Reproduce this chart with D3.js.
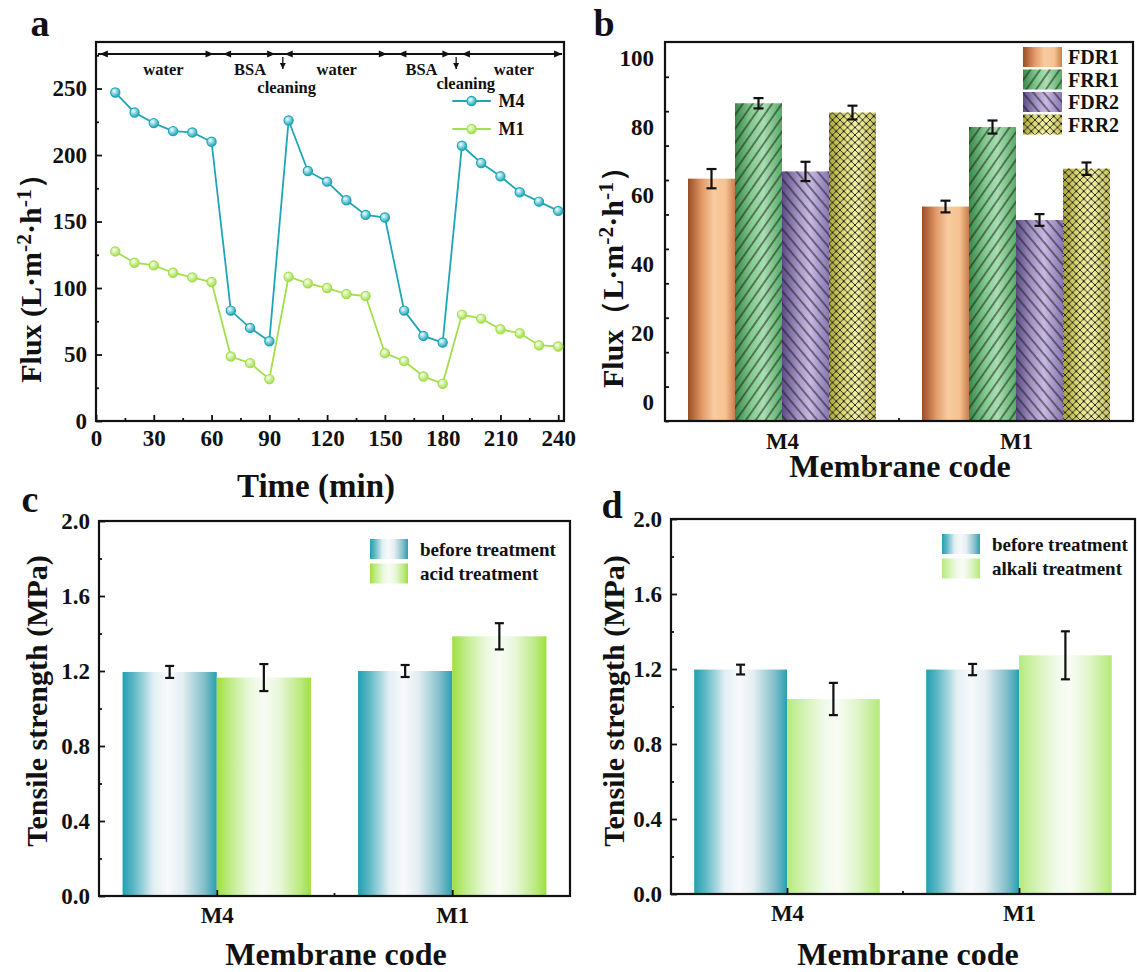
<!DOCTYPE html>
<html><head><meta charset="utf-8">
<script src="https://cdn.jsdelivr.net/npm/d3@7"></script>
<style>
body{margin:0;background:#fff}
text{font-family:"Liberation Serif","Times New Roman",serif;font-weight:bold;fill:#111}
</style>
</head><body>
<svg id="chart" width="1137" height="972"></svg>
<script>
// ---------- data: panel a (flux vs time) ----------
const times = [10,20,30,40,50,60,70,80,90,100,110,120,130,140,150,160,170,180,190,200,210,220,230,240];
const fluxM4 = [247,232,224,218,217,210,83,70,60,226,188,180,166,155,153,83,64,59,207,194,184,172,165,158];
const fluxM1 = [127.5,119,117,111.5,108,104.5,48.5,43.5,31.5,108.5,103.5,100,95.5,94,51,45,33.5,28,80,77,69,66,57,56];
const timeTicks = [0,30,60,90,120,150,180,210,240];
const timeMinorTicks = [15,45,75,105,135,165,195,225];
const fluxTicks = [0,50,100,150,200,250];
const fluxMinorTicks = [25,75,125,175,225,275];
const arrowRightTimes = [61,93,151,184,242];
const arrowLeftTimes = [2,66,98,157,190];
const cleaningTimes = [97,187];
const phaseLabels = ["water","BSA","water","BSA","water"];
const phaseLabelTimes = [35,80,125,169,217];
const cleaningLabelTimes = [99,192];

// ---------- data: panel b (flux ratios) ----------
const membranes = ["M4","M1"];
const ratioSeries = ["FDR1","FRR1","FDR2","FRR2"];
const fdr1 = [64.9,56.8];
const frr1 = [86.8,79.9];
const fdr2 = [67.0,52.9];
const frr2 = [84.1,67.8];
const fdr1Err = [2.8,1.7];
const frr1Err = [1.5,1.9];
const fdr2Err = [2.8,1.7];
const frr2Err = [2.0,1.8];
const ratioTicks = [0,20,40,60,80,100];

// ---------- data: panels c, d (tensile strength) ----------
const tensileBeforeC = [1.195,1.200];
const tensileBeforeCErr = [0.032,0.032];
const tensileAcid = [1.165,1.385];
const tensileAcidErr = [0.072,0.070];
const tensileBeforeD = [1.197,1.197];
const tensileBeforeDErr = [0.026,0.030];
const tensileAlkali = [1.040,1.273];
const tensileAlkaliErr = [0.086,0.128];
const tensileTicks = [0,0.4,0.8,1.2,1.6,2.0];
const tensileMinorTicks = [0.2,0.6,1.0,1.4,1.8];

// ---------- setup ----------
const svg = d3.select("#chart");
const defs = svg.append("defs");
const TICK_FS = 23, TITLE_FS = 32, LETTER_FS = 38, YTITLE_FS = 30;

function linGrad(id, stops){
  const g = defs.append("linearGradient").attr("id",id).attr("x1","0").attr("x2","1").attr("y1","0").attr("y2","0");
  stops.forEach(s=>g.append("stop").attr("offset",s[0]).attr("stop-color",s[1]));
}
function radGrad(id, inner, outer){
  const g = defs.append("radialGradient").attr("id",id).attr("cx","0.38").attr("cy","0.35").attr("r","0.65");
  g.append("stop").attr("offset",0).attr("stop-color",inner);
  g.append("stop").attr("offset",1).attr("stop-color",outer);
}
function hatch(id, angle, spacing){
  const p = defs.append("pattern").attr("id",id).attr("patternUnits","userSpaceOnUse")
    .attr("width",spacing).attr("height",spacing).attr("patternTransform",`rotate(${angle})`);
  p.append("line").attr("x1",spacing/2).attr("x2",spacing/2).attr("y1",0).attr("y2",spacing)
    .attr("stroke","#1a1a1a").attr("stroke-width",1);
}
linGrad("gFDR1",[[0,"#9a4e24"],[0.3,"#e39a68"],[0.55,"#f8cba0"],[0.8,"#f6c291"],[1,"#c77f4c"]]);
linGrad("gFRR1",[[0,"#3a8848"],[0.35,"#84ca90"],[0.6,"#a9dfb1"],[1,"#5aab67"]]);
linGrad("gFDR2",[[0,"#5b4b85"],[0.35,"#a696c6"],[0.6,"#c7b9e2"],[1,"#8876b2"]]);
linGrad("gFRR2",[[0,"#a9a437"],[0.35,"#e5e180"],[0.6,"#f5f2a6"],[1,"#c8c35a"]]);
linGrad("gBefore",[[0,"#22a0b1"],[0.12,"#5db7c5"],[0.33,"#e2eff3"],[0.48,"#f8f9fb"],[0.64,"#e4eef2"],[0.86,"#86c0cb"],[1,"#2a9fb0"]]);
linGrad("gAcid",[[0,"#9fdf3e"],[0.15,"#c2ec8c"],[0.35,"#eaf8dc"],[0.5,"#f8fcf5"],[0.68,"#e6f6d5"],[0.88,"#bdea84"],[1,"#9ee03c"]]);
linGrad("gAlkali",[[0,"#b6ea80"],[0.2,"#d6f3b6"],[0.4,"#f0faea"],[0.55,"#f8fcf5"],[0.75,"#e1f5cc"],[1,"#b5ea78"]]);
radGrad("mM4","#f0fdff","#1ea6b7");
radGrad("mM1","#fbfff2","#a2df4c");
hatch("pFRR1",35,8);
hatch("pFDR2",-40,8);
(function(){
  const s=7.5;
  const p = defs.append("pattern").attr("id","pFRR2").attr("patternUnits","userSpaceOnUse").attr("width",s).attr("height",s);
  p.append("path").attr("d",`M0,0L${s},${s}M${s},0L0,${s}`).attr("stroke","#1a1a1a").attr("stroke-width",0.9);
  p.append("circle").attr("cx",s/2).attr("cy",s/2).attr("r",1.1).attr("fill","#111");
})();
const seriesFill = {FDR1:"url(#gFDR1)",FRR1:"url(#gFRR1)",FDR2:"url(#gFDR2)",FRR2:"url(#gFRR2)"};
const seriesPattern = {FDR1:null,FRR1:"url(#pFRR1)",FDR2:"url(#pFDR2)",FRR2:"url(#pFRR2)"};

function styleAxis(sel, fs){
  sel.select(".domain").remove();
  sel.selectAll(".tick line").attr("stroke","#111").attr("stroke-width",1.8);
  sel.selectAll(".tick text").style("font-size",fs+"px").style("font-family",'"Liberation Serif",serif').style("font-weight","bold").attr("fill","#111");
}
function frame(g, x0,y0,x1,y1){
  g.append("rect").attr("x",x0).attr("y",y0).attr("width",x1-x0).attr("height",y1-y0)
   .attr("fill","none").attr("stroke","#111").attr("stroke-width",2.2);
}
function yTitle(g, x, y, parts, fs){
  const t = g.append("text").attr("transform",`translate(${x},${y}) rotate(-90)`).attr("text-anchor","middle").style("font-size",fs+"px");
  parts.forEach(p=>{
    const ts = t.append("tspan").text(p.t);
    if(p.sup){ ts.attr("dy",-fs*0.32).style("font-size",(fs*0.72)+"px"); }
    else if(p.after){ ts.attr("dy",fs*0.32); }
  });
}
function errBar(g, x, yTop, yBot, cap){
  g.append("line").attr("x1",x).attr("x2",x).attr("y1",yTop).attr("y2",yBot).attr("stroke","#111").attr("stroke-width",2.2);
  [yTop,yBot].forEach(yy=>g.append("line").attr("x1",x-cap).attr("x2",x+cap).attr("y1",yy).attr("y2",yy).attr("stroke","#111").attr("stroke-width",2.2));
}

// ================= panel a =================
(function(){
  const g = svg.append("g");
  const X0=96,X1=564,Y0=42,Y1=421;
  const x = d3.scaleLinear().domain([0,243]).range([X0,X1]);
  const y = d3.scaleLinear().domain([0,285]).range([Y1,Y0]);
  g.append("g").attr("transform",`translate(0,${Y1})`).call(d3.axisBottom(x).tickValues(timeTicks).tickSize(-6).tickPadding(9)).call(s=>styleAxis(s,TICK_FS));
  g.append("g").attr("transform",`translate(0,${Y1})`).call(d3.axisBottom(x).tickValues(timeMinorTicks).tickSize(-3).tickFormat("")).call(s=>styleAxis(s,TICK_FS));
  g.append("g").attr("transform",`translate(${X0},0)`).call(d3.axisLeft(y).tickValues(fluxTicks).tickSize(-6).tickPadding(9)).call(s=>styleAxis(s,TICK_FS));
  g.append("g").attr("transform",`translate(${X0},0)`).call(d3.axisLeft(y).tickValues(fluxMinorTicks).tickSize(-3).tickFormat("")).call(s=>styleAxis(s,TICK_FS));
  frame(g,X0,Y0,X1,Y1);

  // phase annotation line
  const ay = 54;
  g.append("line").attr("x1",x(1)).attr("x2",x(242)).attr("y1",ay).attr("y2",ay).attr("stroke","#111").attr("stroke-width",1.8);
  arrowRightTimes.forEach(t=>{
    const px=x(t); g.append("path").attr("d",`M${px},${ay} l-8,-3.5 l0,7 z`).attr("fill","#111");
  });
  arrowLeftTimes.forEach(t=>{
    const px=x(t); g.append("path").attr("d",`M${px},${ay} l8,-3.5 l0,7 z`).attr("fill","#111");
  });
  cleaningTimes.forEach(t=>{
    const px=x(t);
    g.append("line").attr("x1",px).attr("x2",px).attr("y1",ay+3).attr("y2",ay+15).attr("stroke","#111").attr("stroke-width",1.3);
    g.append("path").attr("d",`M${px},${ay+15} l-3,-6 l6,0 z`).attr("fill","#111");
  });
  phaseLabels.forEach((l,i)=>{
    g.append("text").attr("x",x(phaseLabelTimes[i])).attr("y",75).attr("text-anchor","middle").style("font-size","16.5px").text(l);
  });
  cleaningLabelTimes.forEach((t,i)=>{
    g.append("text").attr("x",x(t)).attr("y",i===0?93:89).attr("text-anchor","middle").style("font-size","16.5px").text("cleaning");
  });

  const line = d3.line().x((d,i)=>x(times[i])).y(d=>y(d));
  [[fluxM4,"#1ea6b7","mM4"],[fluxM1,"#a2df4c","mM1"]].forEach(([vals,col,mk])=>{
    g.append("path").datum(vals).attr("d",line).attr("fill","none").attr("stroke",col).attr("stroke-width",1.8);
    g.selectAll(null).data(vals).enter().append("circle")
      .attr("cx",(d,i)=>x(times[i])).attr("cy",d=>y(d)).attr("r",4.6)
      .attr("fill",`url(#${mk})`).attr("stroke",col).attr("stroke-width",1.2);
  });
  // legend
  [["M4","#1ea6b7","mM4",101],["M1","#a2df4c","mM1",129]].forEach(([name,col,mk,ly])=>{
    g.append("line").attr("x1",x(185)).attr("x2",x(205)).attr("y1",ly).attr("y2",ly).attr("stroke",col).attr("stroke-width",1.8);
    g.append("circle").attr("cx",x(195)).attr("cy",ly).attr("r",4.6).attr("fill",`url(#${mk})`).attr("stroke",col).attr("stroke-width",1.2);
    g.append("text").attr("x",x(209)).attr("y",ly).attr("dy","0.35em").style("font-size","18px").text(name);
  });

  g.append("text").attr("x",316).attr("y",497).attr("text-anchor","middle").style("font-size","33px").text("Time (min)");
  yTitle(g,41,271,[{t:"Flux (L·m"},{t:"-2",sup:true},{t:"·h",after:true},{t:"-1",sup:true},{t:"）",after:true}],YTITLE_FS);
  g.append("text").attr("x",40).attr("y",36).attr("text-anchor","middle").style("font-size",LETTER_FS+"px").text("a");
})();

// ================= panel b =================
(function(){
  const g = svg.append("g");
  const X0=665,X1=1133,Y0=42,Y1=421;
  const x = d3.scalePoint().domain(membranes).range([X0,X1]).padding(0.5);
  const y = d3.scaleLinear().domain([-5.5,104.6]).range([Y1,Y0]);
  const bw = 47;
  const vals = {FDR1:fdr1,FRR1:frr1,FDR2:fdr2,FRR2:frr2};
  const errs = {FDR1:fdr1Err,FRR1:frr1Err,FDR2:fdr2Err,FRR2:frr2Err};
  ratioSeries.forEach((s,si)=>{
    membranes.forEach((m,mi)=>{
      const left = x(m) + (si-2)*bw;
      const top = y(vals[s][mi]);
      g.append("rect").attr("x",left).attr("y",top).attr("width",bw).attr("height",Y1-top).attr("fill",seriesFill[s]);
      if(seriesPattern[s]) g.append("rect").attr("x",left).attr("y",top).attr("width",bw).attr("height",Y1-top).attr("fill",seriesPattern[s]);
    });
  });
  ratioSeries.forEach((s,si)=>{
    membranes.forEach((m,mi)=>{
      const cx = x(m) + (si-1.5)*bw;
      errBar(g,cx,y(vals[s][mi]+errs[s][mi]),y(vals[s][mi]-errs[s][mi]),5);
    });
  });
  // tick marks (offset from labels as in the source figure)
  g.append("g").attr("transform",`translate(${X0},0)`).call(d3.axisLeft(y).tickValues(d3.range(-5.5,104,10)).tickSize(-4).tickFormat("")).call(s=>styleAxis(s,TICK_FS));
  g.append("g").attr("transform",`translate(${X0},0)`).call(d3.axisLeft(y).tickValues(ratioTicks).tickSize(0).tickPadding(11)).call(s=>styleAxis(s,TICK_FS));
  g.append("g").attr("transform",`translate(0,${Y1})`).call(d3.axisBottom(x).tickSize(0).tickPadding(12)).call(s=>styleAxis(s,TICK_FS));
  g.append("line").attr("x1",(X0+X1)/2).attr("x2",(X0+X1)/2).attr("y1",Y1).attr("y2",Y1-3).attr("stroke","#111").attr("stroke-width",1.8);
  frame(g,X0,Y0,X1,Y1);
  // legend
  ratioSeries.forEach((s,i)=>{
    const ly = 47 + i*22.5;
    g.append("rect").attr("x",1023).attr("y",ly).attr("width",39).attr("height",20).attr("fill",seriesFill[s]);
    if(seriesPattern[s]) g.append("rect").attr("x",1023).attr("y",ly).attr("width",39).attr("height",20).attr("fill",seriesPattern[s]);
    g.append("text").attr("x",1068).attr("y",ly+10).attr("dy","0.35em").style("font-size","20px").text(s);
  });
  g.append("text").attr("x",900).attr("y",477).attr("text-anchor","middle").style("font-size",TITLE_FS+"px").text("Membrane code");
  yTitle(g,623,270,[{t:"Flux（L·m"},{t:"-2",sup:true},{t:"·h",after:true},{t:"-1",sup:true},{t:"）",after:true}],YTITLE_FS);
  g.append("text").attr("x",604).attr("y",36).attr("text-anchor","middle").style("font-size",LETTER_FS+"px").text("b");
})();

// ================= panels c & d =================
function tensilePanel(opts){
  const g = svg.append("g");
  const {X0,X1,Y0,Y1} = opts;
  const x = d3.scalePoint().domain(membranes).range([X0,X1]).padding(0.5);
  const y = d3.scaleLinear().domain([0,2.0]).range([Y1,Y0]);
  const bw = (X1-X0)/2*0.8/2;
  membranes.forEach((m,mi)=>{
    const c = x(m);
    g.append("rect").attr("x",c-bw).attr("y",y(opts.before[mi])).attr("width",bw).attr("height",Y1-y(opts.before[mi])).attr("fill","url(#gBefore)");
    g.append("rect").attr("x",c).attr("y",y(opts.treat[mi])).attr("width",bw).attr("height",Y1-y(opts.treat[mi])).attr("fill",opts.treatFill);
  });
  membranes.forEach((m,mi)=>{
    const c = x(m);
    errBar(g,c-bw/2,y(opts.before[mi]+opts.beforeErr[mi]),y(opts.before[mi]-opts.beforeErr[mi]),4.5);
    errBar(g,c+bw/2,y(opts.treat[mi]+opts.treatErr[mi]),y(opts.treat[mi]-opts.treatErr[mi]),4.5);
  });
  g.append("g").attr("transform",`translate(${X0},0)`).call(d3.axisLeft(y).tickValues(tensileTicks).tickSize(-6).tickPadding(9).tickFormat(d3.format(".1f"))).call(s=>styleAxis(s,TICK_FS));
  g.append("g").attr("transform",`translate(${X0},0)`).call(d3.axisLeft(y).tickValues(tensileMinorTicks).tickSize(-3).tickFormat("")).call(s=>styleAxis(s,TICK_FS));
  g.append("g").attr("transform",`translate(0,${Y1})`).call(d3.axisBottom(x).tickSize(-6).tickPadding(11)).call(s=>styleAxis(s,TICK_FS));
  g.append("line").attr("x1",(X0+X1)/2).attr("x2",(X0+X1)/2).attr("y1",Y1).attr("y2",Y1-3).attr("stroke","#111").attr("stroke-width",1.8);
  frame(g,X0,Y0,X1,Y1);
  // legend
  [["before treatment","url(#gBefore)"],[opts.treatName,opts.treatFill]].forEach(([name,fill],i)=>{
    const ly = opts.legY + i*24.5;
    g.append("rect").attr("x",opts.legX).attr("y",ly-10).attr("width",38).attr("height",20).attr("fill",fill);
    g.append("text").attr("x",opts.legX+50).attr("y",ly).attr("dy","0.35em").style("font-size","19px").text(name);
  });
  g.append("text").attr("x",opts.titleX).attr("y",965).attr("text-anchor","middle").style("font-size",TITLE_FS+"px").text("Membrane code");
  yTitle(g,opts.yTitleX,701,[{t:"Tensile strength (MPa)"}],YTITLE_FS);
  g.append("text").attr("x",opts.letterX).attr("y",opts.letterY).attr("text-anchor","middle").style("font-size",LETTER_FS+"px").text(opts.letter);
}
tensilePanel({X0:99,X1:570,Y0:521,Y1:896,before:tensileBeforeC,beforeErr:tensileBeforeCErr,treat:tensileAcid,treatErr:tensileAcidErr,
  treatFill:"url(#gAcid)",treatName:"acid treatment",legX:370,legY:549,titleX:336,yTitleX:47,letter:"c",letterX:30,letterY:512});
tensilePanel({X0:671,X1:1135,Y0:519,Y1:894,before:tensileBeforeD,beforeErr:tensileBeforeDErr,treat:tensileAlkali,treatErr:tensileAlkaliErr,
  treatFill:"url(#gAlkali)",treatName:"alkali treatment",legX:942,legY:544,titleX:908,yTitleX:624,letter:"d",letterX:612,letterY:518});
</script>
</body></html>
